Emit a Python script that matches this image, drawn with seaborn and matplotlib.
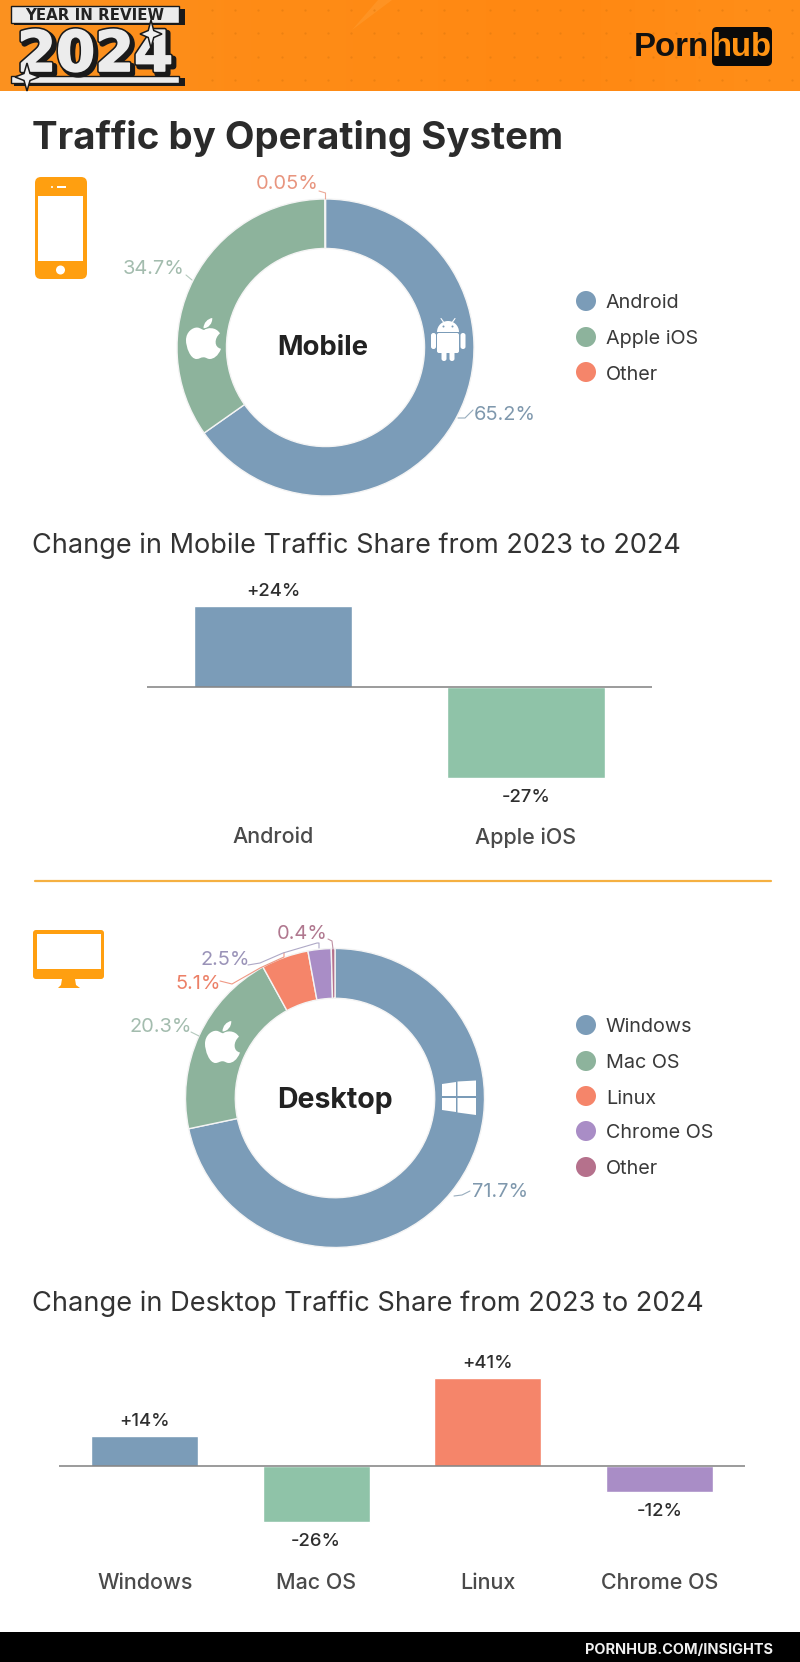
import numpy as np
import seaborn as sns
import matplotlib.pyplot as plt
from matplotlib.patches import Rectangle, FancyBboxPatch, Polygon, Circle, Wedge, PathPatch
from matplotlib.path import Path
from matplotlib import patheffects as pe

# Values
mobile_os = ["Android", "Apple iOS", "Other"]
mobile_share = [65.2, 34.7, 0.05]
mobile_change_os = ["Android", "Apple iOS"]
mobile_change = [24, -27]

desktop_os = ["Windows", "Mac OS", "Linux", "Chrome OS", "Other"]
desktop_share = [71.7, 20.3, 5.1, 2.5, 0.4]
desktop_change_os = ["Windows", "Mac OS", "Linux", "Chrome OS"]
desktop_change = [14, -26, 41, -12]

# Colours per system
donut_colors = {"Android": "#7b9cb8", "Apple iOS": "#8db39c", "Windows": "#7b9cb8", "Mac OS": "#8db39c",
                "Linux": "#f5856a", "Chrome OS": "#a98dc6", "Other": "#f5856a"}
bar_colors = {"Android": "#7b9cb8", "Apple iOS": "#8fc3a8", "Windows": "#7b9cb8", "Mac OS": "#8fc3a8",
              "Linux": "#f5856a", "Chrome OS": "#a98dc6"}
OTHER_DESKTOP = "#b5718c"
ORANGE = "#ff9f10"

W, H = 800, 1662
FONT = "Inter"

sns.set_theme(style="white")
plt.rcParams['font.family'] = [FONT, 'DejaVu Sans']

fig = plt.figure(figsize=(W / 100, H / 100), dpi=100, facecolor="white")


# Font size given in pixels of the final picture
def px(size):
    return size * 0.72


# Axes placed by pixel box
def px_axes(left, top, right, bottom, zorder=1):
    ax = fig.add_axes([left / W, 1 - bottom / H, (right - left) / W, (bottom - top) / H], zorder=zorder)
    ax.patch.set_alpha(0)
    return ax


def donut(cx, cy, r, values, colors):
    m = 1.02
    ax = px_axes(cx - r * m, cy - r * m, cx + r * m, cy + r * m)
    ax.pie(values, colors=colors, startangle=90, counterclock=False, radius=1,
           wedgeprops=dict(width=0.333, edgecolor="#f4f4f4", linewidth=1.0))
    ax.set_xlim(-m, m)
    ax.set_ylim(-m, m)


def bars(left, right, top, bottom, ylim, cats, vals, label_pad):
    ax = px_axes(left, top, right, bottom)
    sns.barplot(x=cats, y=vals, hue=cats, palette=[bar_colors[c] for c in cats], width=0.625,
                dodge=False, legend=False, saturation=1, ax=ax)
    ax.axhline(0, color="#808080", lw=1.1, zorder=5)
    ax.set_xlim(-0.5, len(cats) - 0.5)
    ax.set_ylim(*ylim)
    sns.despine(ax=ax, left=True, bottom=True)
    ax.set_yticks([])
    ax.set_xlabel("")
    ax.set_ylabel("")
    ax.tick_params(axis="x", length=0, pad=label_pad, labelsize=px(21.5), labelcolor="#4a4a4a")
    for lab in ax.get_xticklabels():
        lab.set_fontweight("medium")
    for i, v in enumerate(vals):
        off = 14.5 if v > 0 else -19.5
        ax.annotate(f"{v:+d}%", (i, v), xytext=(0, px(off)), textcoords="offset points",
                    ha="center", va="center", fontsize=px(18.5), color="#2e2e2e", fontweight="medium")


def leader(pts, color):
    xs, ys = zip(*pts)
    deco.plot(xs, ys, color=color, lw=0.8, alpha=0.8, solid_joinstyle="round")


def sparkle(x, y, rx, ry):
    t = 0.25
    pts = [(x, y - ry), (x + rx * t, y - ry * t), (x + rx, y), (x + rx * t, y + ry * t),
           (x, y + ry), (x - rx * t, y + ry * t), (x - rx, y), (x - rx * t, y - ry * t)]
    deco.add_patch(Polygon(pts, closed=True, fc="#f0f0f0", ec="#1a1a1a", lw=1.1, zorder=8))


def apple(x0, y0, w, h):
    V = [(52, 35), (60, 28), (85, 25), (97, 45), (80, 60), (80, 86), (100, 90), (92, 112), (78, 120), (68, 120),
         (60, 120), (58, 115), (50, 115), (42, 115), (38, 120), (30, 120), (12, 120), (0, 85), (0, 65),
         (0, 40), (20, 27), (32, 28), (40, 28), (46, 35), (52, 35),
         (50, 30), (50, 14), (62, 2), (75, 0), (76, 16), (64, 30), (50, 30)]
    C = [Path.MOVETO] + [Path.CURVE4] * 24 + [Path.MOVETO] + [Path.CURVE4] * 6
    V = [(x0 + vx / 100 * w, y0 + vy / 120 * h) for vx, vy in V]
    deco.add_patch(PathPatch(Path(V, C), fc="white", ec="none", zorder=6))


def rrect(x0, y0, x1, y1, rad, color, z=6, ec="none", lw=0):
    deco.add_patch(FancyBboxPatch((x0 + rad, y0 + rad), x1 - x0 - 2 * rad, y1 - y0 - 2 * rad,
                                  boxstyle=f"round,pad={rad},rounding_size={rad}", fc=color, ec=ec, lw=lw, zorder=z))


# Donuts and bar charts
donut(325.5, 347.5, 148.5, mobile_share, [donut_colors[c] for c in mobile_os])
donut_cols = [donut_colors[c] for c in desktop_os[:-1]] + [OTHER_DESKTOP]
donut(335, 1098, 149.5, desktop_share, donut_cols)

bars(147, 652, 586.2, 808, (-36, 30), mobile_change_os, mobile_change, 14)
bars(59, 745, 1369.25, 1552, (-40, 45), desktop_change_os, desktop_change, 15)

# Overlay in pixel coordinates for everything else
deco = px_axes(0, 0, W, H, zorder=3)

# Header band
grad = np.array([[[251, 146, 32], [255, 138, 20], [255, 140, 22], [255, 134, 16], [255, 142, 24]]], dtype=np.uint8)
deco.imshow(grad, extent=(0, W, 91, 0), aspect="auto", interpolation="bicubic", zorder=0)
deco.set_xlim(0, W)
deco.set_ylim(H, 0)
deco.axis("off")
deco.add_patch(Polygon([(378, 0), (392, 0), (352, 30)], closed=True, fc="#ffa640", ec="none", alpha=0.35, zorder=1))
gx, gy = np.meshgrid(np.arange(212, 800, 23.2), [10, 33, 57, 80])
deco.scatter(gx.ravel(), gy.ravel(), s=2.5, color="#e07a10", alpha=0.6, linewidths=0, zorder=1)

# Year in review badge
deco.add_patch(Rectangle((14, 9), 171, 16, fc="#1a1a1a", ec="none", zorder=2))
deco.add_patch(Rectangle((11, 6), 168, 17, fc="#ececec", ec="#1a1a1a", lw=1, zorder=3))
deco.text(95, 15, "YEAR IN REVIEW", ha="center", va="center", fontsize=px(15), fontweight="bold",
          color="#222222", family="DejaVu Sans", zorder=4)
deco.add_patch(Rectangle((14, 78), 171, 7.5, fc="#1a1a1a", ec="none", zorder=2))
deco.add_patch(Rectangle((11, 76), 168, 7, fc="#ececec", ec="#1a1a1a", lw=1, zorder=3))
deco.text(95, 71, "2024", ha="center", va="baseline", fontsize=px(56), fontweight="bold", color="#ececec",
          family="DejaVu Sans", zorder=5,
          path_effects=[pe.Stroke(linewidth=4.5, foreground="#1a1a1a", offset=(2, -2)),
                        pe.Stroke(linewidth=3.5, foreground="#1a1a1a"),
                        pe.Stroke(linewidth=1.2, foreground="#ececec"),
                        pe.Normal()])
sparkle(151, 34, 11, 14)
sparkle(27, 77, 12, 14)

# Logo
deco.text(671, 47, "Porn", ha="center", va="center", fontsize=px(33), fontweight="bold", color="#111111",
          family="Liberation Sans", zorder=4)
rrect(712, 27, 772, 66, 5, "#0a0a0a", z=3)
deco.text(742, 47, "hub", ha="center", va="center", fontsize=px(33), fontweight="bold", color="#ff9414",
          family="Liberation Sans", zorder=4)

# Footer
deco.add_patch(Rectangle((0, 1632), W, 30, fc="black", ec="none", zorder=2))
deco.text(773, 1650, "PORNHUB.COM/INSIGHTS", ha="right", va="center", fontsize=px(14.5), fontweight="bold",
          color="#f0f0f0", zorder=4)

# Headings
deco.text(32, 138.5, "Traffic by Operating System", ha="left", va="center", fontsize=px(38.5), fontweight="bold",
          color="#2b2b2b")
deco.text(32, 546, "Change in Mobile Traffic Share from 2023 to 2024", ha="left", va="center", fontsize=px(27.1),
          color="#333333")
deco.text(32, 1304, "Change in Desktop Traffic Share from 2023 to 2024", ha="left", va="center", fontsize=px(27.2),
          color="#333333")
deco.plot([35, 771], [881, 881], color="#f5b041", lw=1.6)

# Donut centres
deco.text(323, 348, "Mobile", ha="center", va="center", fontsize=px(27.5), fontweight="bold", color="#222222")
deco.text(335, 1100, "Desktop", ha="center", va="center", fontsize=px(28.5), fontweight="bold", color="#222222")

# Share labels with leaders
deco.text(505, 415, f"{mobile_share[0]}%", ha="center", va="center", fontsize=px(20), color="#7f98ad")
deco.text(154, 269, f"{mobile_share[1]}%", ha="center", va="center", fontsize=px(20), color="#a3bcae")
deco.text(287, 184, f"{mobile_share[2]}%", ha="center", va="center", fontsize=px(20), color="#e8957f")
leader([(458, 418), (465, 418), (473, 410)], "#7f98ad")
leader([(186, 275), (192, 280)], "#a3bcae")
leader([(319, 191), (325.5, 193), (325.5, 199)], "#e8957f")

deco.text(500, 1192, f"{desktop_share[0]}%", ha="center", va="center", fontsize=px(20), color="#7f98ad")
deco.text(161, 1027, f"{desktop_share[1]}%", ha="center", va="center", fontsize=px(20), color="#a3bcae")
deco.text(198, 984, f"{desktop_share[2]}%", ha="center", va="center", fontsize=px(20), color="#ec8067")
deco.text(225, 960, f"{desktop_share[3]}%", ha="center", va="center", fontsize=px(20), color="#9a93b8")
deco.text(302, 934, f"{desktop_share[4]}%", ha="center", va="center", fontsize=px(20), color="#b0788f")
leader([(454, 1196), (462, 1195), (470, 1191)], "#7f98ad")
leader([(191, 1032), (199, 1036)], "#a3bcae")
leader([(220, 981), (232, 984), (260, 968), (284, 957), (284, 953)], "#ec8067")
leader([(248, 965), (260, 963), (283, 953), (317, 943), (319, 943), (319, 948)], "#9a93b8")
leader([(328, 939), (332, 941), (333, 949)], "#b0788f")

# Legends
legend_x = 586
for name, y in zip(mobile_os, [301, 337, 372]):
    deco.add_patch(Circle((legend_x, y), 10, fc=donut_colors[name], ec="none"))
    deco.text(606, y + 2.5, name, ha="left", va="center", fontsize=px(19.8), color="#3a3a3a")
for name, y, col in zip(desktop_os, [1025, 1061, 1096, 1131, 1167], donut_cols):
    deco.add_patch(Circle((legend_x, y), 10, fc=col, ec="none"))
    deco.text(606, y + 2.5, name, ha="left", va="center", fontsize=px(19.8), color="#3a3a3a")

# Phone icon
rrect(35, 177, 87, 279, 6, ORANGE)
deco.add_patch(Rectangle((38, 196), 45, 65, fc="white", ec="none", zorder=7))
deco.add_patch(Rectangle((57, 186), 9, 2, fc="white", ec="none", zorder=7))
deco.add_patch(Circle((52, 187), 1, fc="white", ec="none", zorder=7))
deco.add_patch(Circle((60.5, 270), 4.5, fc="white", ec="none", zorder=7))

# Monitor icon
rrect(33, 930, 104, 979, 3, ORANGE)
deco.add_patch(Rectangle((37, 934), 64, 35, fc="white", ec="none", zorder=7))
deco.add_patch(Polygon([(62, 979), (75, 979), (76, 985), (80, 988), (58, 988), (61, 985)], closed=True,
                       fc=ORANGE, ec="none", zorder=6))

# Logos on the rings
apple(186, 318, 35, 41)
apple(205, 1021, 35, 42)

# Android robot
deco.add_patch(Wedge((448, 332), 11, 180, 360, fc="white", ec="none", zorder=6))
deco.add_patch(Circle((443.5, 326.5), 1.0, fc="#7b9cb8", ec="none", zorder=7))
deco.add_patch(Circle((452.5, 326.5), 1.0, fc="#7b9cb8", ec="none", zorder=7))
deco.plot([441, 443.5], [318.5, 322], color="white", lw=0.8, zorder=6)
deco.plot([455, 452.5], [318.5, 322], color="white", lw=0.8, zorder=6)
rrect(437, 333, 459, 353, 2, "white")
rrect(431, 333, 436, 349, 2.4, "white")
rrect(460.5, 333, 465.5, 349, 2.4, "white")
rrect(441.5, 350, 446.5, 361, 2.4, "white")
rrect(449.5, 350, 454.5, 361, 2.4, "white")

# Windows logo
win_panes = [[(442, 1084), (456, 1082), (456, 1096), (442, 1096)],
             [(457.5, 1081.5), (476, 1080.5), (476, 1096), (457.5, 1096)],
             [(442, 1098), (456, 1098), (456, 1112), (442, 1110)],
             [(457.5, 1098), (476, 1098), (476, 1115), (457.5, 1112.5)]]
for pane in win_panes:
    deco.add_patch(Polygon(pane, closed=True, fc="white", ec="none", zorder=6))

fig.savefig("out.png", dpi=100)
